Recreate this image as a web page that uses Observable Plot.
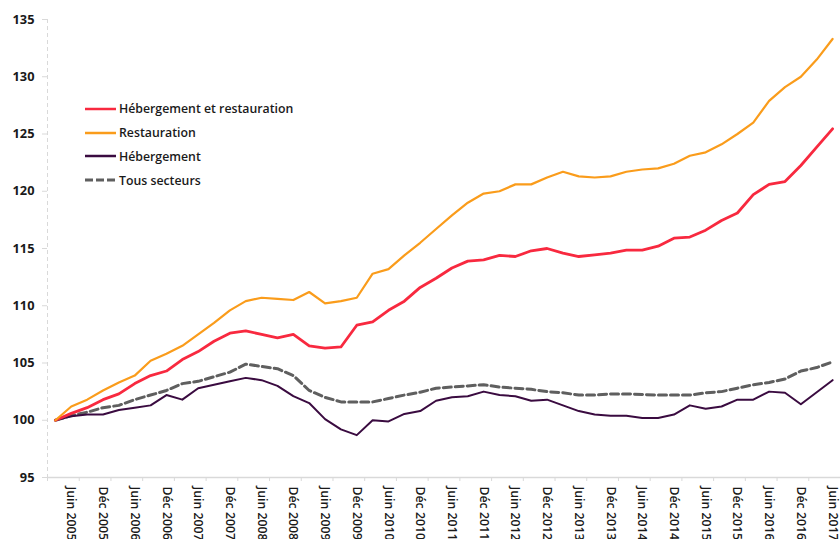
<!DOCTYPE html>
<html><head><meta charset="utf-8">
<script src="https://cdn.jsdelivr.net/npm/d3@7"></script>
<script src="https://cdn.jsdelivr.net/npm/@observablehq/plot@0.6"></script>
<style>
body{margin:0;background:#fff;}
#wrap{position:relative;width:840px;height:539px;overflow:hidden;}
#legend{position:absolute;left:85px;top:97px;font:600 12.3px "Open Sans";color:#1a1a1a;}
#legend .row{display:flex;align-items:center;height:23.8px;}
#legend svg{display:block;margin-right:2px;}
</style>
</head><body>
<div id="wrap"><div id="chart"></div><div id="legend"></div></div>
<script>
// Quarterly categories (Mars 2005 .. Juin 2017)
const quarters = [
 "Mars 2005","Juin 2005","Sept 2005","Déc 2005",
 "Mars 2006","Juin 2006","Sept 2006","Déc 2006",
 "Mars 2007","Juin 2007","Sept 2007","Déc 2007",
 "Mars 2008","Juin 2008","Sept 2008","Déc 2008",
 "Mars 2009","Juin 2009","Sept 2009","Déc 2009",
 "Mars 2010","Juin 2010","Sept 2010","Déc 2010",
 "Mars 2011","Juin 2011","Sept 2011","Déc 2011",
 "Mars 2012","Juin 2012","Sept 2012","Déc 2012",
 "Mars 2013","Juin 2013","Sept 2013","Déc 2013",
 "Mars 2014","Juin 2014","Sept 2014","Déc 2014",
 "Mars 2015","Juin 2015","Sept 2015","Déc 2015",
 "Mars 2016","Juin 2016","Sept 2016","Déc 2016",
 "Mars 2017","Juin 2017"
];
// Labelled ticks (every other quarter)
const xTickLabels = ["Juin 2005","Déc 2005","Juin 2006","Déc 2006","Juin 2007","Déc 2007","Juin 2008","Déc 2008","Juin 2009","Déc 2009","Juin 2010","Déc 2010","Juin 2011","Déc 2011","Juin 2012","Déc 2012","Juin 2013","Déc 2013","Juin 2014","Déc 2014","Juin 2015","Déc 2015","Juin 2016","Déc 2016","Juin 2017"];
const yTicks = [95,100,105,110,115,120,125,130,135];

const hebergementRestauration = [100.0,100.6,101.1,101.8,102.3,103.2,103.9,104.3,105.3,106.0,106.9,107.6,107.8,107.5,107.2,107.5,106.5,106.3,106.4,108.3,108.6,109.6,110.4,111.6,112.4,113.3,113.9,114.0,114.4,114.3,114.8,115.0,114.6,114.3,114.45,114.6,114.85,114.85,115.2,115.9,116.0,116.6,117.45,118.1,119.7,120.6,120.85,122.25,123.85,125.45];
const restauration = [100.0,101.2,101.8,102.6,103.3,103.9,105.2,105.8,106.5,107.5,108.5,109.6,110.4,110.7,110.6,110.5,111.2,110.2,110.4,110.7,112.8,113.2,114.4,115.5,116.7,117.9,119.0,119.8,120.0,120.6,120.6,121.2,121.7,121.3,121.2,121.3,121.7,121.9,122.0,122.4,123.1,123.4,124.1,125.0,126.0,127.9,129.1,130.0,131.5,133.3];
const hebergement = [100.0,100.35,100.5,100.5,100.9,101.1,101.3,102.2,101.8,102.8,103.1,103.4,103.7,103.5,103.0,102.1,101.5,100.1,99.2,98.7,100.0,99.9,100.55,100.8,101.7,102.0,102.1,102.5,102.2,102.1,101.7,101.8,101.3,100.8,100.5,100.4,100.4,100.2,100.2,100.5,101.3,101.0,101.2,101.8,101.8,102.5,102.4,101.4,102.45,103.5];
const tousSecteurs = [100.0,100.4,100.7,101.1,101.3,101.8,102.2,102.6,103.2,103.4,103.8,104.2,104.9,104.7,104.5,103.9,102.6,102.0,101.6,101.6,101.6,101.9,102.2,102.45,102.8,102.9,103.0,103.1,102.9,102.8,102.7,102.5,102.4,102.2,102.2,102.3,102.3,102.25,102.2,102.2,102.2,102.4,102.5,102.8,103.1,103.3,103.6,104.3,104.6,105.1];

const seriesNames = ["Hébergement et restauration","Restauration","Hébergement","Tous secteurs"];

const series = [
 {name: seriesNames[3], values: tousSecteurs, stroke: "#5f5f5f", width: 3, dash: "8,4"},
 {name: seriesNames[2], values: hebergement, stroke: "#3a0b40", width: 2, dash: null},
 {name: seriesNames[0], values: hebergementRestauration, stroke: "#f8293f", width: 2.8, dash: null},
 {name: seriesNames[1], values: restauration, stroke: "#fa9c1b", width: 2.2, dash: null}
];

const rows = s => s.values.map((v, i) => ({i, v, q: quarters[i]}));
const labelIdx = xTickLabels.map(l => quarters.indexOf(l));
const boundaries = d3.range(-0.5, quarters.length, 2);

const chart = Plot.plot({
  width: 840, height: 539,
  marginLeft: 47, marginRight: 0, marginTop: 19, marginBottom: 62,
  x: {type: "linear", domain: [-0.5, quarters.length - 0.5]},
  y: {domain: [95, 135]},
  style: {fontFamily: "Open Sans", fontSize: "12.3px", fontWeight: 600, color: "#1a1a1a", background: "white"},
  marks: [
    Plot.ruleY([95], {stroke: "#d9d9d9", strokeWidth: 1.5}),
    Plot.ruleX([-0.5], {stroke: "#d9d9d9", strokeDasharray: "4,3"}),
    Plot.axisY({ticks: yTicks, tickSize: 5, tickPadding: 8, stroke: "#d9d9d9", fill: "#1a1a1a", fontSize: "12.8px", fontWeight: 700, label: null}),
    Plot.axisX({ticks: boundaries, tickSize: 4, tickFormat: () => "", stroke: "#d9d9d9", label: null}),
    Plot.axisX({ticks: labelIdx, tickSize: 0, tickPadding: 9, tickRotate: 90, tickFormat: i => quarters[i], fill: "#1a1a1a", label: null}),
    ...series.map(s => Plot.line(rows(s), {x: "i", y: "v", stroke: s.stroke, strokeWidth: s.width, strokeDasharray: s.dash, strokeLinejoin: "round"}))
  ]
});
document.getElementById("chart").appendChild(chart);

// Legend
const legendOrder = [series[2], series[3], series[1], series[0]];
const leg = document.getElementById("legend");
legendOrder.forEach(s => {
  const row = document.createElement("div");
  row.className = "row";
  row.innerHTML = `<svg width="32" height="6"><line x1="0" y1="3" x2="31" y2="3" stroke="${s.stroke}" stroke-width="${s.name === seriesNames[3] ? 3 : 2.5}" ${s.dash ? `stroke-dasharray="8,3"` : ""}/></svg><span>${s.name}</span>`;
  leg.appendChild(row);
});
</script>
</body></html>
